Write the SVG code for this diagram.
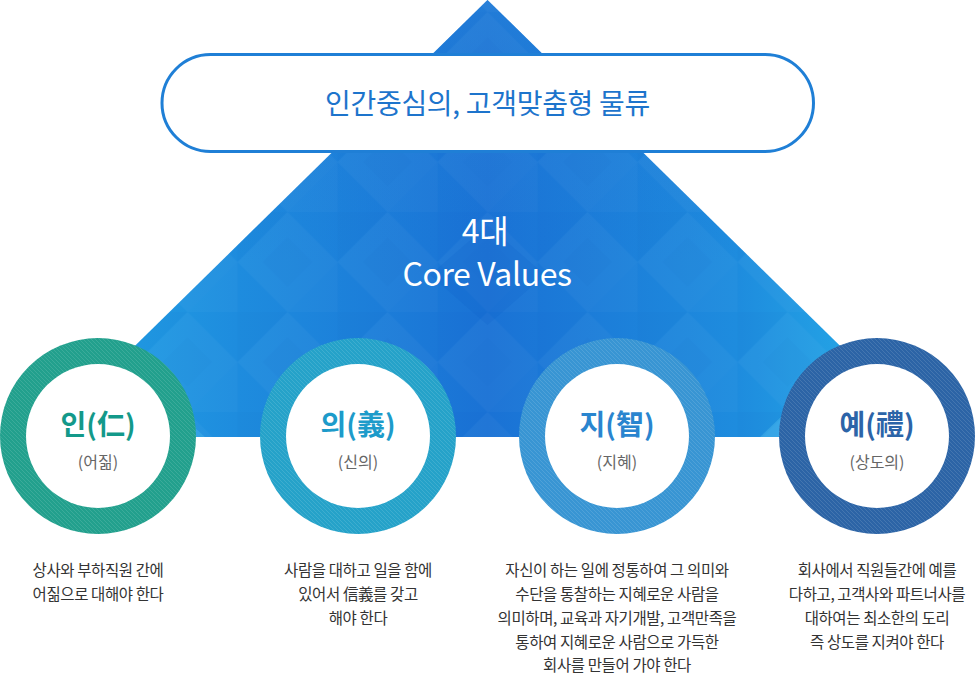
<svg xmlns="http://www.w3.org/2000/svg" width="976" height="674" viewBox="0 0 976 674">
  <style>
    .kr { font-family: "Noto Sans CJK KR", "Noto Sans", "Liberation Sans", sans-serif; }
    .pilltxt { font-size: 28px; fill: #1d74cc; text-anchor: middle; letter-spacing: -0.3px; }
    .core { font-size: 32px; fill: #ffffff; text-anchor: middle; letter-spacing: -0.4px; }
    .title { font-size: 28px; font-weight: bold; text-anchor: middle; }
    .sub { font-size: 16px; fill: #666666; text-anchor: middle; }
    .desc { font-size: 15.5px; fill: #333333; text-anchor: middle; letter-spacing: -0.4px; }
    .hatch { fill: url(#hatch); }
    .inner { fill: #ffffff; }
  </style>
  <defs>
    <linearGradient id="triGrad" x1="0" y1="0" x2="1" y2="0">
      <stop offset="0" stop-color="#22a6e6"/>
      <stop offset="0.22" stop-color="#1e8cde"/>
      <stop offset="0.5" stop-color="#1a72d5"/>
      <stop offset="0.78" stop-color="#1e8cde"/>
      <stop offset="1" stop-color="#28b4ea"/>
    </linearGradient>
    <linearGradient id="triShade" x1="0" y1="0" x2="0" y2="1">
      <stop offset="0" stop-color="#2a86da" stop-opacity="0.5"/>
      <stop offset="0.6" stop-color="#1b74d6" stop-opacity="0"/>
      <stop offset="1" stop-color="#1b74d6" stop-opacity="0"/>
    </linearGradient>
    <pattern id="geo" patternUnits="userSpaceOnUse" x="437.5" y="12" width="100" height="100">
      <polygon points="50,0 100,50 50,100 0,50" fill="#ffffff" fill-opacity="0.03"/>
      <polygon points="0,0 50,0 0,50" fill="#0a4fb0" fill-opacity="0.04"/>
      <polygon points="100,100 50,100 100,50" fill="#ffffff" fill-opacity="0.025"/>
      <polygon points="25,50 50,25 75,50 50,75" fill="#0a4fb0" fill-opacity="0.03"/>
    </pattern>
    <pattern id="hatch" patternUnits="userSpaceOnUse" width="4" height="4">
      <path d="M-1,-1 L5,5 M-1,3 L1,5 M3,-1 L5,1" stroke="#ffffff" stroke-opacity="0.13" stroke-width="0.9"/>
    </pattern>
    <clipPath id="triClip">
      <polygon points="487.5,0 933,437 42,437"/>
    </clipPath>
  </defs>

  <g id="triangle">
    <polygon points="487.5,0 933,437 42,437" fill="url(#triGrad)"/>
    <polygon points="487.5,0 933,437 42,437" fill="url(#triShade)"/>
    <polygon points="487.5,0 933,437 42,437" fill="url(#geo)"/>
    <g clip-path="url(#triClip)">
      <polygon points="760,437 835,365 880,437" fill="#5fcaf2" fill-opacity="0.3"/>
      <polygon points="120,437 160,395 205,437" fill="#5fcaf2" fill-opacity="0.25"/>
      <polygon points="430,275 487.5,225 545,275 487.5,325" fill="#0a60c8" fill-opacity="0.18"/>
    </g>
    <text class="kr core" x="485" y="243">4대</text>
    <text class="kr core" x="487" y="286">Core Values</text>
  </g>

  <g id="mission">
    <rect x="162" y="54.5" width="651.5" height="97" rx="48.5" ry="48.5" fill="#ffffff" stroke="#1f7fd6" stroke-width="3"/>
    <text class="kr pilltxt" x="487.5" y="114">인간중심의, 고객맞춤형 물류</text>
  </g>

  <g id="connectors"></g>

  <g id="node-in">
    <circle cx="98" cy="436" r="98" fill="#22a08d"/>
    <circle cx="98" cy="436" r="98" class="hatch"/>
    <circle cx="98" cy="436" r="72" class="inner"/>
    <text class="kr title" x="98" y="435" fill="#13998a">인(仁)</text>
    <text class="kr sub" x="98" y="468">(어짊)</text>
    <text class="kr desc" x="98" y="576">상사와 부하직원 간에</text>
    <text class="kr desc" x="98" y="600">어짊으로 대해야 한다</text>
  </g>

  <g id="node-ui">
    <circle cx="358" cy="436" r="98" fill="#25a2c9"/>
    <circle cx="358" cy="436" r="98" class="hatch"/>
    <circle cx="358" cy="436" r="72" class="inner"/>
    <text class="kr title" x="358" y="435" fill="#1d9bca">의(義)</text>
    <text class="kr sub" x="358" y="468">(신의)</text>
    <text class="kr desc" x="358" y="576">사람을 대하고 일을 함에</text>
    <text class="kr desc" x="358" y="600">있어서 信義를 갖고</text>
    <text class="kr desc" x="358" y="624">해야 한다</text>
  </g>

  <g id="node-ji">
    <circle cx="617" cy="436" r="98" fill="#3895d3"/>
    <circle cx="617" cy="436" r="98" class="hatch"/>
    <circle cx="617" cy="436" r="72" class="inner"/>
    <text class="kr title" x="617" y="435" fill="#2a85cf">지(智)</text>
    <text class="kr sub" x="617" y="468">(지혜)</text>
    <text class="kr desc" x="617" y="576">자신이 하는 일에 정통하여 그 의미와</text>
    <text class="kr desc" x="617" y="600">수단을 통찰하는 지혜로운 사람을</text>
    <text class="kr desc" x="617" y="624">의미하며, 교육과 자기개발, 고객만족을</text>
    <text class="kr desc" x="617" y="648">통하여 지혜로운 사람으로 가득한</text>
    <text class="kr desc" x="617" y="671">회사를 만들어 가야 한다</text>
  </g>

  <g id="node-ye">
    <circle cx="877" cy="436" r="98" fill="#2c64a6"/>
    <circle cx="877" cy="436" r="98" class="hatch"/>
    <circle cx="877" cy="436" r="72" class="inner"/>
    <text class="kr title" x="877" y="435" fill="#2c64a8">예(禮)</text>
    <text class="kr sub" x="877" y="468">(상도의)</text>
    <text class="kr desc" x="877" y="576">회사에서 직원들간에 예를</text>
    <text class="kr desc" x="877" y="600">다하고, 고객사와 파트너사를</text>
    <text class="kr desc" x="877" y="624">대하여는 최소한의 도리</text>
    <text class="kr desc" x="877" y="648">즉 상도를 지켜야 한다</text>
  </g>
</svg>
